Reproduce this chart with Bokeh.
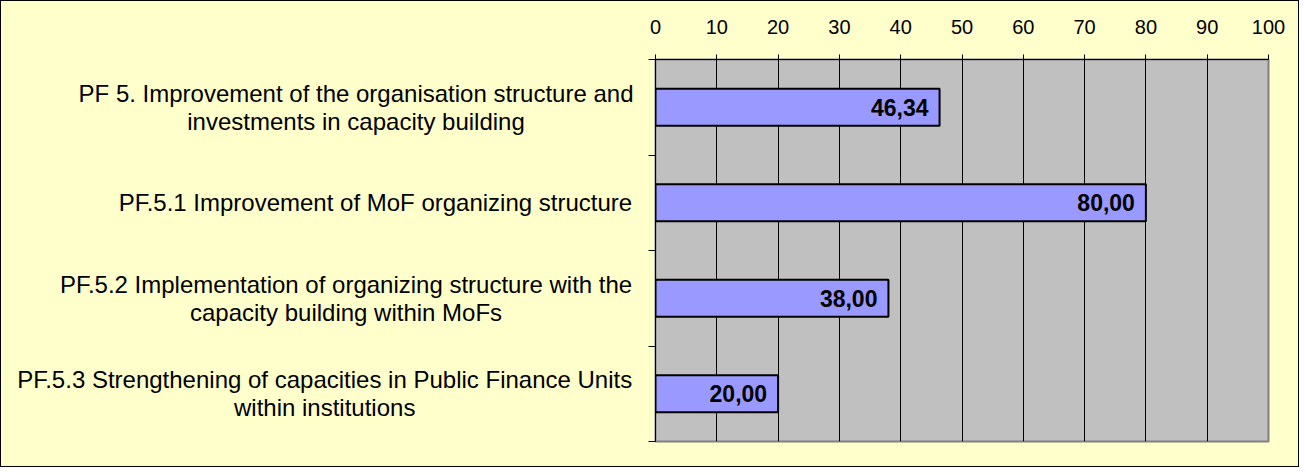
from bokeh.plotting import figure
from bokeh.layouts import row
from bokeh.models import Range1d, FixedTicker, ColumnDataSource
from bokeh.embed import file_html
from bokeh.resources import INLINE
from bokeh.core.properties import value

# ---- data ----
categories = [
    "PF 5. Improvement of the organisation structure and\ninvestments in capacity building",
    "PF.5.1 Improvement of MoF organizing structure",
    "PF.5.2 Implementation of organizing structure with the\ncapacity building within MoFs",
    "PF.5.3 Strengthening of capacities in Public Finance Units\nwithin institutions",
]
scores = [46.34, 80.00, 38.00, 20.00]
x_ticks = [0, 10, 20, 30, 40, 50, 60, 70, 80, 90, 100]

FONT = "Liberation Sans"
CAT_SIZE = 24

# Arial / Liberation Sans advance widths (1/1000 em) used to right-align
# the centred multi-line category blocks
_W = {" ": 278, ".": 278, ",": 278}
_W.update({d: 556 for d in "0123456789"})
_W.update(dict(zip("ABCDEFGHIJKLMNOPQRSTUVWXYZ",
                   [667, 667, 722, 722, 667, 611, 778, 722, 278, 500, 667, 556, 833,
                    722, 778, 667, 778, 722, 667, 611, 722, 667, 944, 667, 667, 611])))
_W.update(dict(zip("abcdefghijklmnopqrstuvwxyz",
                   [556, 556, 500, 556, 556, 278, 556, 556, 222, 222, 500, 222, 833,
                    556, 556, 556, 556, 333, 500, 278, 556, 500, 722, 500, 500, 500])))


def text_width(s, size):
    return max(sum(_W.get(ch, 556) for ch in line) for line in s.split("\n")) * size / 1000.0


n = len(categories)
ypos = [n - 0.5 - i for i in range(n)]
score_labels = [f"{v:.2f}".replace(".", ",") for v in scores]

LEFT_W = 640        # width of the label panel
TEXT_RIGHT = 632    # right edge of the category text blocks
MAIN_W = 1297 - LEFT_W
H = 465

cat_x = [TEXT_RIGHT - text_width(c, CAT_SIZE) / 2 for c in categories]

src = ColumnDataSource(dict(y=ypos, score=scores, lab=score_labels, zero=[0] * n,
                            cat=categories, cx=cat_x))

yr = Range1d(0, n)

# ---- label panel ----
pl = figure(width=LEFT_W, height=H, x_range=Range1d(0, LEFT_W), y_range=yr,
            output_backend="svg", toolbar_location=None,
            x_axis_type=None, y_axis_type=None,
            min_border_left=0, min_border_right=0,
            min_border_top=58, min_border_bottom=25,
            background_fill_color="#FFFFCC", border_fill_color="#FFFFCC",
            outline_line_color=None)
pl.grid.visible = False
pl.text(x="cx", y="y", text="cat", source=src, text_align="center",
        text_baseline="middle", text_font=value(FONT),
        text_font_size=f"{CAT_SIZE}px", text_color="black", text_line_height=1.03)

# ---- chart ----
p = figure(width=MAIN_W, height=H,
           x_range=Range1d(x_ticks[0], x_ticks[-1]), y_range=yr,
           output_backend="svg", toolbar_location=None,
           x_axis_location="above",
           min_border_left=654 - LEFT_W, min_border_right=30,
           min_border_top=58, min_border_bottom=25,
           background_fill_color="#C0C0C0", border_fill_color="#FFFFCC",
           outline_line_color="#808080", outline_line_width=2)

# top axis
xa = p.xaxis[0]
xa.ticker = FixedTicker(ticks=x_ticks)
xa.major_label_text_font = FONT
xa.major_label_text_font_size = "20px"
xa.major_label_text_color = "black"
xa.major_tick_out = 5
xa.major_tick_in = 0
xa.minor_tick_line_color = None
xa.axis_line_color = "black"
xa.major_tick_line_color = "black"
xa.major_label_standoff = 21

# left axis: tick marks at category boundaries, no labels
ya = p.yaxis[0]
ya.ticker = FixedTicker(ticks=list(range(n + 1)))
ya.major_label_overrides = {i: "" for i in range(n + 1)}
ya.major_label_standoff = 0
ya.major_tick_out = 7
ya.major_tick_in = 0
ya.minor_tick_line_color = None
ya.axis_line_color = "black"
ya.major_tick_line_color = "black"

p.xgrid.ticker = FixedTicker(ticks=x_ticks)
p.xgrid.grid_line_color = "black"
p.xgrid.grid_line_alpha = 1
p.ygrid.grid_line_color = None

p.hbar(y="y", left="zero", right="score", height=0.39, source=src,
       fill_color="#9999FF", line_color="black", line_width=2)

p.text(x="score", y="y", text="lab", source=src, text_align="right",
       text_baseline="middle", x_offset=-11, text_font=value(FONT),
       text_font_style="bold", text_font_size="23px", text_color="black")

layout = row(pl, p, spacing=0)
layout.styles = {"border": "1px solid black", "background-color": "#FFFFCC"}

open("out.html", "w").write(file_html(layout, INLINE))
